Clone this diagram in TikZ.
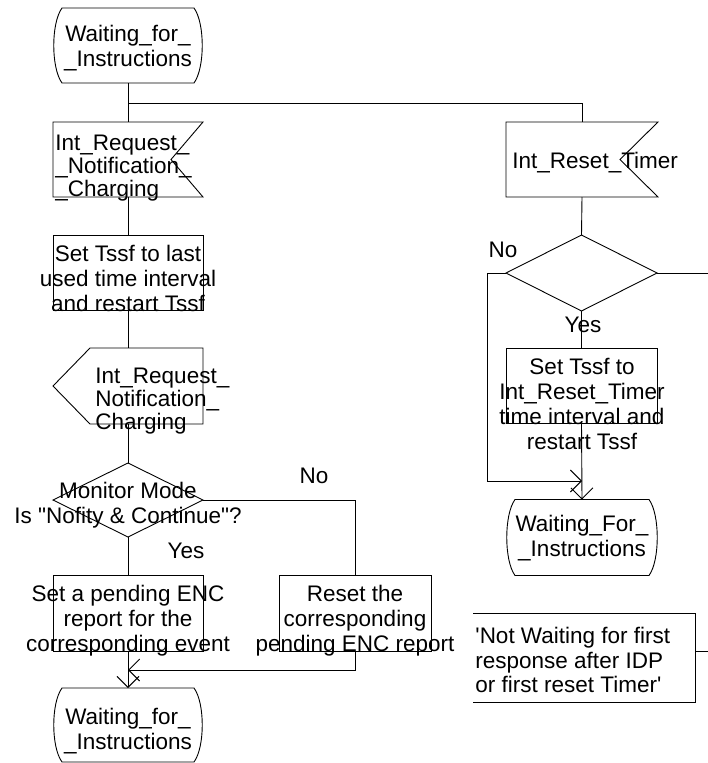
\documentclass[tikz,border=0pt]{standalone}
\usepackage{fontspec}
\setmainfont{Liberation Sans}[Ligatures=TeXOff]
\usetikzlibrary{arrows.meta}

% SDL symbol outlines, drawn round an empty node
\newcommand{\statesym}[1]{%
  \draw ([xshift=9pt]#1.north west) -- ([xshift=-9pt]#1.north east)
    .. controls ([xshift=2pt,yshift=-15pt]#1.north east) and ([xshift=2pt,yshift=15pt]#1.south east) .. ([xshift=-9pt]#1.south east)
    -- ([xshift=9pt]#1.south west)
    .. controls ([xshift=-2pt,yshift=15pt]#1.south west) and ([xshift=-2pt,yshift=-15pt]#1.north west) .. cycle;}
\newcommand{\inputsym}[2]{%
  \draw (#1.north west) -- (#1.north east) -- ([xshift=-#2]#1.east) -- (#1.south east) -- (#1.south west) -- cycle;}
\newcommand{\outputsym}[2]{%
  \draw ([xshift=#2]#1.north west) -- (#1.north east) -- (#1.south east) -- ([xshift=#2]#1.south west) -- (#1.west) -- cycle;}
\newcommand{\decisionsym}[1]{%
  \draw (#1.north) -- (#1.east) -- (#1.south) -- (#1.west) -- cycle;}
\newcommand{\commentsym}[1]{%
  \draw (#1.north west) -- (#1.north east) -- (#1.south east) -- (#1.south west);}

\tikzset{
  sym/.style={rectangle, inner sep=0pt, outer sep=0pt, minimum width=150pt, minimum height=75pt},
  taskbox/.style={sym, draw},
  txt/.style={inner sep=0pt, anchor=north, align=center, font=\fontsize{22.5}{25}\selectfont},
  sigtxt/.style={inner sep=0pt, anchor=north west, align=left, font=\fontsize{22.5}{23}\selectfont},
  lbl/.style={inner sep=0pt, anchor=base, font=\fontsize{22.5}{25}\selectfont},
}

\begin{document}
\begin{tikzpicture}[x=1pt, y=-1pt, line width=0.9pt, >={Straight Barb[length=11pt,width=22pt]}]
  \useasboundingbox (0,0) rectangle (708,763);

  % Left column
  \node[sym] (s1) at (128,45.5) {};
  \node[txt] (s1t) at (128,25) {Waiting\_for\_\\\_Instructions};
  \statesym{s1}

  \node[sym] (in1) at (128,159.5) {};
  \node[sigtxt] (in1t) at (55,135) {Int\_Request\_\\\_Notification\_\\\_Charging};
  \inputsym{in1}{32pt}

  \node[taskbox] (t1) at (128,272.5) {};
  \node[txt] (t1t) at (128,245) {Set Tssf to last\\used time interval\\and restart Tssf};

  \node[sym, minimum height=76pt] (out1) at (128,386) {};
  \node[sigtxt] (out1t) at (95,368) {Int\_Request\_\\Notification\_\\Charging};
  \outputsym{out1}{37pt}

  \node[sym, minimum height=74pt] (d1) at (128,500) {};
  \node[txt] (d1t) at (128,482) {Monitor Mode\\Is "Nofity \& Continue"?};
  \decisionsym{d1}
  \node[lbl] (no1) at (314,483) {No};
  \node[lbl] (yes1) at (186,558) {Yes};

  \node[taskbox, minimum height=76pt] (t2) at (128,613) {};
  \node[txt] (t2t) at (128,585) {Set a pending ENC\\report for the\\corresponding event};

  \node[taskbox, minimum width=152pt, minimum height=76pt] (t3) at (355,613) {};
  \node[txt] (t3t) at (355,585) {Reset the\\corresponding\\pending ENC report};

  \node[sym, minimum height=74pt] (s3) at (128,725) {};
  \node[txt] (s3t) at (128,708) {Waiting\_for\_\\\_Instructions};
  \statesym{s3}

  % Right column
  \node[sym, minimum width=152pt] (r1) at (582,159.5) {};
  \node[sigtxt] (r1t) at (512,152) {Int\_Reset\_Timer};
  \inputsym{r1}{38pt}

  \node[sym, minimum width=151pt, minimum height=76pt] (d2) at (581.5,273) {};
  \decisionsym{d2}
  \node[lbl] (no2) at (503,257) {No};
  \node[lbl] (yes2) at (583,332) {Yes};

  \node[taskbox, minimum width=151pt] (t4) at (581.5,385.5) {};
  \node[txt] (t4t) at (582,358) {Set Tssf to\\Int\_Reset\_Timer\\time interval and\\restart Tssf};

  \node[sym, minimum width=152pt, minimum height=76pt] (s2) at (582,537.5) {};
  \node[txt] (s2t) at (582,515) {Waiting\_For\_\\\_Instructions};
  \statesym{s2}

  \node[sym, minimum width=222pt, minimum height=89pt] (cm) at (584,657.5) {};
  \node[sigtxt, font=\fontsize{22.5}{24.5}\selectfont] (cmt) at (475,627) {'Not Waiting for first\\response after IDP\\or first reset Timer'};
  \commentsym{cm}

  % Joints and free ends
  \coordinate (br) at (128,103);
  \coordinate (j1) at (128,670);
  \coordinate (j2) at (582,481);
  \coordinate (e1) at (708,273);
  \coordinate (e2) at (708,651);
  \coordinate (c1) at (695,651);

  % Connections
  \draw (s1.south) -- (in1.north);
  \draw (br) -| (r1.north);
  \draw (in1.south) -- (t1.north);
  \draw (t1.south) -- (out1.north);
  \draw (out1.south) -- (d1.north);
  \draw (d1.east) -| (t3.north);
  \draw (d1.south) -- (t2.north);
  \draw[->] (t2.south) -- (s3.north);
  \draw[->] (t3.south) |- (j1);

  \draw (r1.south) -- (d2.north);
  \draw (d2.south) -- (t4.north);
  \draw[->] (t4.south) -- (s2.north);
  \draw[->] (d2.west) -- ++(-19,0) |- (j2);
  \draw (d2.east) -- (e1);
  \draw (c1) -- (e2);
\end{tikzpicture}
\end{document}
